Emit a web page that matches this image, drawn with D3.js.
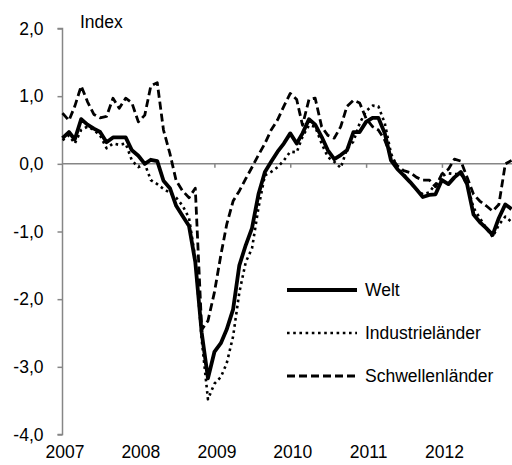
<!DOCTYPE html>
<html>
<head>
<meta charset="utf-8">
<script src="https://cdn.jsdelivr.net/npm/d3@7"></script>
<style>
  body { margin: 0; background: #fff; overflow: hidden; }
  svg { display: block; }
  svg text { font-family: "Liberation Sans", Arial, sans-serif; fill: #000; }
</style>
</head>
<body>
<div id="chart"></div>
<script>
// Monatswerte Jan 2007 - Dez 2012
const welt = [
  0.38, 0.47, 0.36, 0.66, 0.58, 0.52, 0.47, 0.32, 0.39, 0.39, 0.39, 0.20,
  0.12, 0.00, 0.06, 0.04, -0.25, -0.36, -0.62, -0.77, -0.92, -1.45, -2.50, -3.17,
  -2.78, -2.65, -2.45, -2.15, -1.50, -1.20, -0.95, -0.45, -0.12, 0.03, 0.18, 0.30,
  0.45, 0.30, 0.45, 0.66, 0.58, 0.40, 0.20, 0.07, 0.13, 0.20, 0.47, 0.47,
  0.62, 0.68, 0.68, 0.45, 0.05, -0.08, -0.17, -0.27, -0.38, -0.49, -0.46, -0.45,
  -0.24, -0.30, -0.20, -0.12, -0.30, -0.75, -0.86, -0.95, -1.05, -0.80, -0.60, -0.67
];
const industrie = [
  0.35, 0.42, 0.30, 0.50, 0.55, 0.50, 0.42, 0.23, 0.30, 0.28, 0.30, 0.05,
  -0.05, 0.00, -0.24, -0.30, -0.37, -0.43, -0.50, -0.62, -0.80, -1.40, -2.60, -3.48,
  -3.25, -3.15, -2.95, -2.55, -1.90, -1.45, -1.25, -0.65, -0.17, -0.12, -0.05, 0.05,
  0.18, 0.17, 0.40, 0.57, 0.55, 0.30, 0.10, 0.03, -0.06, 0.22, 0.33, 0.60,
  0.78, 0.86, 0.85, 0.60, 0.15, -0.05, -0.15, -0.28, -0.38, -0.45, -0.42, -0.30,
  -0.18, -0.14, -0.15, -0.15, -0.30, -0.65, -0.80, -0.95, -1.08, -0.90, -0.78, -0.86
];
const schwellen = [
  0.75, 0.64, 0.85, 1.15, 0.92, 0.73, 0.68, 0.70, 0.97, 0.82, 0.97, 0.90,
  0.62, 0.72, 1.15, 1.20, 0.50, 0.15, -0.25, -0.40, -0.50, -0.36, -2.45, -2.32,
  -1.90, -1.35, -0.90, -0.55, -0.40, -0.22, -0.05, 0.13, 0.30, 0.50, 0.65, 0.85,
  1.04, 0.95, 0.57, 0.95, 0.97, 0.55, 0.42, 0.38, 0.55, 0.85, 0.94, 0.90,
  0.67, 0.55, 0.50, 0.35, 0.10, -0.03, -0.10, -0.13, -0.20, -0.24, -0.24, -0.34,
  -0.15, -0.08, 0.07, 0.04, -0.20, -0.45, -0.55, -0.62, -0.70, -0.60, 0.00, 0.05
];
const yTicks = [-4, -3, -2, -1, 0, 1, 2];
const yearLabels = [2007, 2008, 2009, 2010, 2011, 2012];
const seriesNames = ["Welt", "Industrieländer", "Schwellenländer"];

const width = 512, height = 465;
const fontSize = "17.5px";
const months = welt.map((d, i) => new Date(2007, i, 1));

const svg = d3.select("#chart").append("svg")
    .attr("width", width)
    .attr("height", height);

const x = d3.scaleTime()
    .domain([new Date(2007, 0, 1), new Date(2013, 0, 1)])
    .range([62.5, 518]);

const y = d3.scaleLinear()
    .domain([-4, 2])
    .range([434.5, 28.5]);

// Komma als Dezimaltrenner, normales Minuszeichen
const fmt = v => d3.format(".1f")(v).replace(".", ",").replace("\u2212", "-");

// y-Achse
const yAxis = svg.append("g")
    .attr("transform", `translate(${x.range()[0]},0)`)
    .call(d3.axisLeft(y).tickValues(yTicks).tickSize(5).tickPadding(14).tickFormat(fmt));
yAxis.selectAll("path, line").attr("stroke", "#868686").attr("stroke-width", 1.5);
yAxis.select(".domain").attr("d", `M-5,${y(-4)}H0V${y(2)}H-5`);
yAxis.selectAll("text").style("font-size", fontSize);

// Nulllinie mit Jahresstrichen
const xAxis = svg.append("g")
    .attr("transform", `translate(0,${y(0)})`)
    .call(d3.axisBottom(x)
        .tickValues(yearLabels.slice(1).map(yr => new Date(yr, 0, 1)))
        .tickSize(4).tickFormat(""));
xAxis.select(".domain").attr("d", `M${x.range()[0]},0H${width}`);
xAxis.selectAll("path, line").attr("stroke", "#868686").attr("stroke-width", 1.5);

// Jahresbeschriftung unten
svg.append("g")
    .attr("transform", "translate(2,446)")
    .call(d3.axisBottom(x)
        .tickValues(yearLabels.map(yr => new Date(yr, 0, 1)))
        .tickSize(0).tickPadding(0)
        .tickFormat(d3.timeFormat("%Y")))
    .call(g => g.select(".domain").remove())
    .selectAll("text").style("font-size", fontSize);

svg.append("text")
    .attr("x", 80).attr("y", 28)
    .style("font-size", fontSize)
    .text("Index");

const styles = [
  { w: 3.8, dash: null },
  { w: 2.6, dash: "2.6,3.6" },
  { w: 2.8, dash: "8,4" }
];
const allSeries = [welt, industrie, schwellen];

const line = d3.line()
    .x((d, i) => x(months[i]))
    .y(d => y(d));

[2, 1, 0].forEach(k => {
  svg.append("path")
      .datum(allSeries[k])
      .attr("fill", "none")
      .attr("stroke", "#000")
      .attr("stroke-width", styles[k].w)
      .attr("stroke-linejoin", "round")
      .attr("stroke-dasharray", styles[k].dash)
      .attr("d", line);
});

// Legende
const legend = svg.append("g").attr("transform", "translate(287,290)");
seriesNames.forEach((name, k) => {
  const g = legend.append("g").attr("transform", `translate(0,${k * 43})`);
  g.append("line")
      .attr("x1", 0).attr("x2", 70)
      .attr("stroke", "#000")
      .attr("stroke-width", styles[k].w)
      .attr("stroke-dasharray", styles[k].dash);
  g.append("text")
      .attr("x", 78).attr("dy", "0.35em")
      .style("font-size", fontSize)
      .text(name);
});
</script>
</body>
</html>
